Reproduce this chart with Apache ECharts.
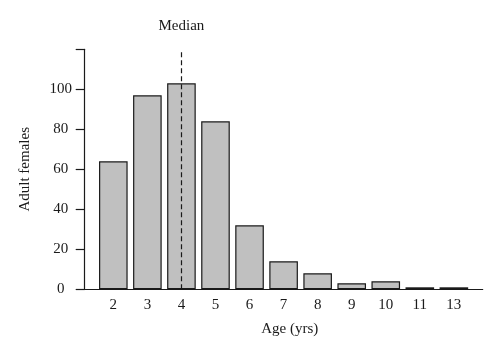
<!DOCTYPE html>
<html>
<head>
<meta charset="utf-8">
<script src="https://cdn.jsdelivr.net/npm/echarts@6/dist/echarts.min.js"></script>
<style>html,body{margin:0;padding:0;background:#fff}#c{width:500px;height:356px}</style>
</head>
<body>
<div id="c"></div>
<script>
const ages = ['2','3','4','5','6','7','8','9','10','11','13'];
const females = [64, 97, 103, 84, 32, 14, 8, 3, 4, 1, 1];
const medianAge = '4';
const yTicks = { min: 0, max: 120, interval: 20 };

const FONT = 'Liberation Serif';
const INK = '#1a1a1a';
const chart = echarts.init(document.getElementById('c'), null, { renderer: 'canvas' });
chart.setOption({
  animation: false,
  backgroundColor: '#fff',
  grid: [
    { left: 96.3, right: 29.1, top: 49.3, bottom: 66.7 },
    { left: 84.7, right: 17.3, top: 49.3, bottom: 66.7 }
  ],
  xAxis: [
    {
      gridIndex: 0, type: 'category', data: ages,
      axisLine: { show: false }, axisTick: { show: false },
      axisLabel: { margin: 8, fontFamily: FONT, fontSize: 15, color: INK }
    },
    {
      gridIndex: 1, type: 'value', min: 0, max: 1,
      axisLine: { show: true, lineStyle: { color: INK, width: 1.2 } },
      axisTick: { show: false }, axisLabel: { show: false }, splitLine: { show: false },
      name: 'Age (yrs)', nameLocation: 'middle', nameGap: 32,
      nameTextStyle: { fontFamily: FONT, fontSize: 15, color: INK, padding: [0, 0, 0, 12] }
    }
  ],
  yAxis: [
    { gridIndex: 0, type: 'value', min: yTicks.min, max: yTicks.max, show: false },
    {
      gridIndex: 1, type: 'value', min: yTicks.min, max: yTicks.max, interval: yTicks.interval,
      axisLine: { show: true, lineStyle: { color: INK, width: 1.2 } },
      axisTick: { show: true, inside: false, length: 9, lineStyle: { color: INK, width: 1.2 } },
      axisLabel: { margin: 24, align: 'center', fontFamily: FONT, fontSize: 15, color: INK,
                   formatter: v => (v === yTicks.max ? '' : String(v)) },
      splitLine: { show: false },
      name: 'Adult females', nameLocation: 'middle', nameGap: 52,
      nameTextStyle: { fontFamily: FONT, fontSize: 15, color: INK }
    }
  ],
  series: [{
    type: 'bar', xAxisIndex: 0, yAxisIndex: 0, data: females,
    barCategoryGap: '16%',
    itemStyle: { color: '#c0c0c0', borderColor: INK, borderWidth: 1.2 },
    markLine: {
      silent: true, symbol: ['none', 'none'],
      lineStyle: { color: INK, width: 1.2, type: [5, 3] },
      label: { show: true, position: 'end', formatter: 'Median', distance: 16,
               fontFamily: FONT, fontSize: 15, color: INK },
      data: [{ xAxis: medianAge }]
    }
  }]
});
</script>
</body>
</html>
